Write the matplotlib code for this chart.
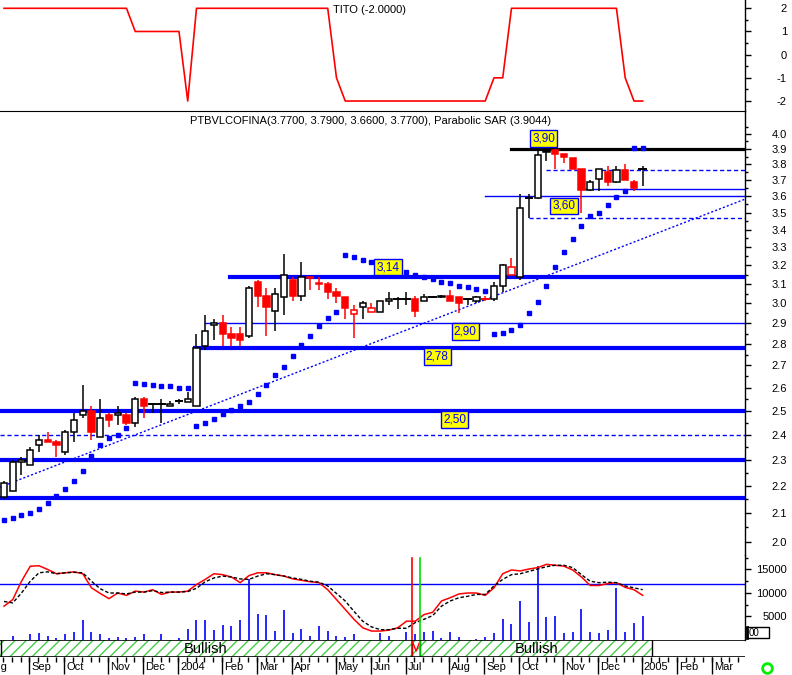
import numpy as np
import matplotlib
matplotlib.use("Agg")
import matplotlib.pyplot as plt
from matplotlib.patches import Rectangle
from matplotlib.lines import Line2D
from matplotlib.ticker import FixedLocator, FixedFormatter, NullFormatter

plt.rcParams['font.family'] = ['Liberation Sans', 'DejaVu Sans']

# ---------------- data (weekly bars) ----------------
opens = [2.16, 2.18, 2.29, 2.28, 2.36, 2.38, 2.37, 2.33, 2.41, 2.48,
         2.50, 2.39, 2.48, 2.48, 2.48, 2.45, 2.55, 2.53, 2.53, 2.52,
         2.54, 2.535, 2.52, 2.79, 2.89, 2.90, 2.85, 2.85, 2.84, 3.11,
         3.04, 2.96, 3.03, 3.12, 3.04, 3.14, 3.105, 3.10, 3.06, 3.03,
         2.945, 2.98, 2.955, 2.955, 3.01, 3.02, 3.02, 3.02, 3.01, 3.03,
         3.03, 3.04, 3.03, 3.02, 3.01, 3.02, 3.02, 3.09, 3.15, 3.14,
         3.59, 3.59, 3.89, 3.89, 3.87, 3.84, 3.77, 3.64, 3.705, 3.75,
         3.69, 3.765, 3.69, 3.77]
highs = [2.22, 2.30, 2.31, 2.35, 2.40, 2.41, 2.38, 2.42, 2.49, 2.61,
         2.52, 2.55, 2.49, 2.52, 2.49, 2.56, 2.56, 2.53, 2.55, 2.54,
         2.55, 2.58, 2.85, 2.94, 2.92, 2.94, 2.88, 2.88, 3.09, 3.12,
         3.08, 3.08, 3.26, 3.14, 3.22, 3.14, 3.14, 3.11, 3.08, 3.03,
         2.99, 3.01, 3.00, 3.01, 3.06, 3.03, 3.06, 3.04, 3.05, 3.04,
         3.045, 3.07, 3.03, 3.02, 3.04, 3.04, 3.11, 3.21, 3.24, 3.61,
         3.61, 3.89, 3.90, 3.90, 3.87, 3.84, 3.77, 3.70, 3.77, 3.79,
         3.79, 3.80, 3.70, 3.79]
lows = [2.15, 2.18, 2.24, 2.28, 2.33, 2.37, 2.31, 2.32, 2.37, 2.47,
        2.38, 2.39, 2.43, 2.44, 2.44, 2.43, 2.47, 2.49, 2.45, 2.52,
        2.53, 2.535, 2.52, 2.77, 2.82, 2.79, 2.79, 2.79, 2.83, 2.98,
        2.84, 2.86, 2.94, 3.01, 3.01, 3.07, 3.07, 3.02, 3.00, 2.92,
        2.83, 2.92, 2.955, 2.955, 2.99, 2.97, 2.99, 2.93, 3.01, 3.03,
        3.025, 3.01, 2.95, 2.99, 3.00, 3.01, 3.01, 3.06, 3.15, 3.12,
        3.47, 3.58, 3.82, 3.77, 3.81, 3.77, 3.50, 3.63, 3.63, 3.66,
        3.68, 3.70, 3.63, 3.66]
closes = [2.21, 2.29, 2.30, 2.34, 2.38, 2.37, 2.36, 2.41, 2.46, 2.50,
          2.41, 2.47, 2.46, 2.49, 2.45, 2.55, 2.52, 2.53, 2.53, 2.53,
          2.54, 2.55, 2.78, 2.86, 2.90, 2.85, 2.83, 2.82, 3.08, 3.04,
          2.98, 3.05, 3.15, 3.04, 3.14, 3.13, 3.10, 3.06, 3.04, 2.975,
          2.965, 3.00, 2.975, 3.01, 3.02, 3.02, 3.02, 2.96, 3.03, 3.03,
          3.04, 3.01, 3.00, 3.02, 3.03, 3.02, 3.09, 3.20, 3.19, 3.53,
          3.59, 3.86, 3.88, 3.87, 3.85, 3.77, 3.64, 3.69, 3.77, 3.69,
          3.765, 3.70, 3.65, 3.77]
sar = [2.076, 2.083, 2.094, 2.100, 2.115, 2.137, 2.162, 2.188, 2.218, 2.256,
       2.314, 2.358, 2.386, 2.398, 2.427, 2.619, 2.615, 2.611, 2.606, 2.606,
       2.598, 2.598, 2.435, 2.447, 2.463, 2.485, 2.502, 2.519, 2.536, 2.570,
       2.611, 2.655, 2.691, 2.742, 2.793, 2.836, 2.885, 2.924, 2.958, 3.259,
       3.248, 3.227, 3.216, 3.200, 3.190, 3.179, 3.163, 3.150, 3.137, 3.125,
       3.110, 3.104, 3.088, 3.083, 3.072, 3.062, 2.846, 2.851, 2.866, 2.890,
       2.953, 3.006, 3.088, 3.190, 3.271, 3.349, 3.421, 3.482, 3.499, 3.547,
       3.596, 3.633, 3.908, 3.908]
volume = [0, 800, 0, 1200, 1400, 900, 500, 1200, 1800, 4300,
          1600, 1200, 500, 700, 500, 700, 1200, 0, 1200, 0,
          400, 2400, 4200, 4300, 2200, 3200, 3000, 4200, 13000, 5600,
          5400, 2000, 6300, 1400, 2400, 900, 3000, 2000, 900, 600,
          1200, 0, 0, 1400, 900, 0, 1600, 1200, 1600, 2000,
          400, 1800, 600, 0, 300, 600, 1400, 4500, 3500, 8400,
          3900, 15800, 4900, 5100, 1400, 1600, 6600, 1600, 1400, 2200,
          11100, 1600, 3600, 5100]
vol_ma_fast = [7.2, 8.6, 12.5, 15.7, 15.8, 15.0, 14.1, 14.3, 14.5, 14.1,
               11.1, 9.9, 8.8, 10.0, 9.5, 10.4, 10.2, 10.7, 9.7, 10.2,
               10.2, 10.4, 11.8, 12.9, 14.1, 13.9, 13.4, 12.2, 13.7, 14.3,
               14.3, 13.9, 13.6, 13.0, 12.7, 12.4, 12.2, 10.7, 8.6, 6.5,
               4.4, 2.6, 1.9, 1.9, 2.1, 2.6, 4.0, 4.0, 5.4, 5.9,
               8.3, 9.0, 9.8, 10.0, 10.0, 9.5, 11.1, 14.1, 14.9, 14.7,
               15.1, 15.4, 16.1, 15.9, 15.7, 14.9, 13.4, 11.6, 11.6, 12.0,
               12.2, 11.2, 10.7, 9.5]
vol_ma_slow = [8.2, 7.9, 10.0, 12.5, 14.3, 14.5, 14.1, 14.3, 14.4, 14.3,
               12.5, 10.9, 10.0, 10.0, 9.8, 10.2, 10.2, 10.5, 10.1, 10.2,
               10.2, 10.3, 11.0, 12.4, 13.2, 13.6, 13.4, 13.0, 12.9, 13.6,
               14.1, 13.9, 13.6, 13.2, 12.9, 12.5, 12.3, 11.5, 9.9, 8.3,
               6.1, 4.0, 2.8, 2.2, 2.2, 2.5, 2.5, 3.7, 4.4, 5.2,
               7.2, 8.3, 9.0, 9.3, 9.7, 9.7, 11.5, 12.9, 13.9, 14.1,
               14.6, 15.1, 15.6, 15.9, 15.9, 15.4, 13.9, 12.5, 12.2, 12.3,
               12.2, 11.5, 11.1, 10.7]
tito = [2] * 15 + [1] * 6 + [-2] + [2] * 16 + [-1] + [-2] * 17 + [-1] * 2 + [2] * 13 + [-1] + [-2] * 2

labeled_levels = [3.90, 3.60, 3.14, 2.90, 2.78, 2.50]
other_levels = [3.765, 3.643, 3.47, 2.40, 2.30, 2.155]
trend_points = [(0, 2.201), (84, 3.567)]
vol_ref_level = 12000
signal_weeks = [46.6, 47.6]
month_labels = ["Aug", "Sep", "Oct", "Nov", "Dec", "2004", "Feb", "Mar", "Apr", "May",
                "Jun", "Jul", "Aug", "Sep", "Oct", "Nov", "Dec", "2005", "Feb", "Mar"]
month_weeks = [-2, 3, 7, 12, 16, 20, 25, 29, 33, 38, 42, 46, 51, 55, 59, 64, 68, 73, 77, 81]
price_ticks = [round(2.0 + 0.1 * k, 1) for k in range(21)]
tito_ticks = [2, 1, 0, -1, -2]
vol_ticks = [5000, 10000, 15000]
band_segments = [("Bullish", -0.457, 46.6), ("", 46.6, 47.6), ("Bullish", 47.6, 74.06)]

n = len(closes)
idx = np.arange(n)
BLUE = '#0000ff'
RED = '#ff0000'

# ---------------- layout ----------------
W, H = 792, 675
fig = plt.figure(figsize=(7.92, 6.75), dpi=100)


def rect(x0, y0, x1, y1):
    return [x0 / W, 1 - y1 / H, (x1 - x0) / W, (y1 - y0) / H]


XMIN, XMAX = -0.457, 84.69
ax_top = fig.add_axes(rect(0, 0, 745, 111))
ax_main = fig.add_axes(rect(0, 111, 745, 555))
ax_vol = fig.add_axes(rect(0, 555, 745, 640))
ax_band = fig.add_axes(rect(0, 640, 745, 657))
ax_date = fig.add_axes(rect(0, 657, 745, 675))

for ax in (ax_top, ax_main, ax_vol, ax_band, ax_date):
    ax.set_xlim(XMIN, XMAX)
    ax.set_xticks([])
    ax.patch.set_alpha(0)
    for s in ax.spines.values():
        s.set_visible(False)

PAD = 25.7
TL = 4.5


def right_axis(ax):
    ax.spines['right'].set_visible(True)
    ax.spines['right'].set_linewidth(1)
    ax.yaxis.tick_right()
    ax.tick_params(axis='y', which='major', direction='out', length=TL, width=1,
                   pad=PAD, labelsize=8)
    ax.tick_params(axis='y', which='minor', direction='out', length=2.5, width=1)


# ---------------- TITO panel ----------------
ax_top.plot(idx, tito, color=RED, lw=1.2)
ax_top.set_ylim(-2.431, 2.358)
right_axis(ax_top)
ax_top.spines['bottom'].set_visible(True)
ax_top.yaxis.set_major_locator(FixedLocator(tito_ticks))
ax_top.yaxis.set_major_formatter(FixedFormatter([str(t) for t in tito_ticks]))
ax_top.yaxis.set_minor_locator(FixedLocator([-1.5, -0.5, 0.5, 1.5, 2.5]))
plt.setp(ax_top.get_yticklabels(), ha='right')
fig.text(333 / W, 1 - 10 / H, "TITO (-2.0000)", fontsize=8, ha='left', va='center')

# ---------------- price panel ----------------
ax_main.set_yscale('log')
ax_main.set_ylim(1.956, 4.16)
right_axis(ax_main)
ax_main.yaxis.set_major_locator(FixedLocator(price_ticks))
ax_main.yaxis.set_major_formatter(FixedFormatter([f"{t:.1f}" for t in price_ticks]))
ax_main.yaxis.set_minor_locator(FixedLocator([t + 0.05 for t in price_ticks]))
ax_main.yaxis.set_minor_formatter(NullFormatter())
plt.setp(ax_main.get_yticklabels(), ha='right')

# support / resistance lines: (level, start week, color, width, style)
line_specs = [
    (labeled_levels[0], 58.0, 'black', 2.3, '-'),
    (labeled_levels[1], 55.0, BLUE, 1.0, '-'),
    (labeled_levels[2], 25.8, BLUE, 3.0, '-'),
    (labeled_levels[3], 23.0, BLUE, 1.0, '-'),
    (labeled_levels[4], 21.8, BLUE, 3.0, '-'),
    (labeled_levels[5], XMIN, BLUE, 3.0, '-'),
    (other_levels[0], 62.0, BLUE, 1.0, '--'),
    (other_levels[1], 66.0, BLUE, 1.0, '-'),
    (other_levels[2], 60.0, BLUE, 1.0, '--'),
    (other_levels[3], XMIN, BLUE, 1.0, '--'),
    (other_levels[4], XMIN, BLUE, 3.0, '-'),
    (other_levels[5], XMIN, BLUE, 3.0, '-'),
]
for lev, x0, col, lw, ls in line_specs:
    ln = ax_main.plot([x0, XMAX], [lev, lev], color=col, lw=lw, zorder=2)[0]
    if ls == '--':
        ln.set_dashes([3, 2])

# trend line
tl = ax_main.axline(trend_points[0], trend_points[1], color=BLUE, lw=1, zorder=2)
tl.set_dashes([1.5, 1.5])

# candles
for i in range(n):
    o, h, l, c = opens[i], highs[i], lows[i], closes[i]
    prev = closes[i - 1] if i > 0 else c
    col = RED if c < prev else 'black'
    ax_main.plot([i, i], [l, h], color=col, lw=1.1, zorder=3, solid_capstyle='butt')
    if abs(c - o) < 0.004:
        ax_main.plot([i - 0.38, i + 0.38], [c, c], color=col, lw=1.4, zorder=4)
    else:
        fc = col if c < o else 'white'
        ax_main.add_patch(Rectangle((i - 0.36, min(o, c)), 0.72, abs(c - o),
                                    facecolor=fc, edgecolor=col, lw=1.1, zorder=4))

# parabolic SAR
ax_main.plot(idx, sar, linestyle='none', marker='s', ms=2.6, color=BLUE, zorder=5)

# level labels: (week, price position)
label_pos = [(61.7, 3.97), (64.0, 3.54), (43.9, 3.19), (52.7, 2.86), (49.5, 2.741), (51.5, 2.463)]
for lev, (xw, yp) in zip(labeled_levels, label_pos):
    ax_main.text(xw, yp, f"{lev:.2f}".replace('.', ','), fontsize=8.5, color=BLUE,
                 ha='center', va='center', zorder=6,
                 bbox=dict(boxstyle='square,pad=0.18', fc='yellow', ec=BLUE, lw=1))

fig.text(190 / W, 1 - 121 / H,
         "PTBVLCOFINA(3.7700, 3.7900, 3.6600, 3.7700), Parabolic SAR (3.9044)",
         fontsize=8, ha='left', va='center')

# ---------------- volume panel ----------------
ax_vol.set_ylim(0, 18085)
right_axis(ax_vol)
ax_vol.yaxis.set_major_locator(FixedLocator(vol_ticks))
ax_vol.yaxis.set_major_formatter(FixedFormatter([str(v) for v in vol_ticks]))
ax_vol.yaxis.set_minor_locator(FixedLocator([2500, 7500, 12500, 17500]))
plt.setp(ax_vol.get_yticklabels(), ha='right')
ax_vol.vlines(idx, 0, volume, color=BLUE, lw=1.2, zorder=3)
ax_vol.axhline(vol_ref_level, color=BLUE, lw=1, zorder=2)
ax_vol.plot(idx, np.array(vol_ma_fast) * 1000, color=RED, lw=1.1, zorder=4)
sl = ax_vol.plot(idx, np.array(vol_ma_slow) * 1000, color='black', lw=1, zorder=4)[0]
sl.set_dashes([2.5, 1.5])
top_frac = (640 - 558) / 85
ax_vol.axvline(signal_weeks[0], ymin=0, ymax=top_frac, color=RED, lw=1.2, zorder=5)
ax_vol.axvline(signal_weeks[1], ymin=0, ymax=top_frac, color='#00dd00', lw=1.2, zorder=5)

# ---------------- signal band ----------------
ax_band.set_ylim(0, 1)
ax_band.set_yticks([])
for txt, x0, x1 in band_segments:
    ax_band.add_patch(Rectangle((x0, 0), x1 - x0, 1, facecolor='white',
                                edgecolor='#44cc44', hatch='///', lw=0, zorder=1))
    if txt:
        ax_band.text((x0 + x1) / 2, 0.45, txt, fontsize=10.5, ha='center', va='center', zorder=3)
ax_band.plot([signal_weeks[0], signal_weeks[0] + 0.5, signal_weeks[1]], [1, 0.35, 1],
             color=RED, lw=1, zorder=3)
for xv in [XMIN + 0.08, signal_weeks[0], signal_weeks[1], 74.06]:
    ax_band.axvline(xv, color='black', lw=1, zorder=2)
ax_band.axvline(signal_weeks[0], color=RED, lw=1.2, zorder=4)
ax_band.axvline(signal_weeks[1], color='#00dd00', lw=1.2, zorder=4)
ax_band.axhline(1, color='black', lw=1.2, zorder=4)
ax_band.axhline(0, color='black', lw=1.2, zorder=4)

# ---------------- date axis ----------------
ax_date.set_ylim(0, 1)
ax_date.set_yticks([])
weeks = np.arange(-3, 86)
ax_date.vlines(weeks - 0.1, 0.7, 1, color='black', lw=1)
ax_date.vlines(np.array(month_weeks) - 0.1, 0.08, 1, color='black', lw=1)
for lab, m in zip(month_labels, month_weeks):
    ax_date.text(m + 0.12, 0.42, lab, fontsize=8, ha='left', va='center', clip_on=True)

# small clipped label box and status marker
fig.add_artist(Rectangle((747 / W, 1 - 638 / H), 22 / W, 11 / H, transform=fig.transFigure,
                         facecolor='white', edgecolor='black', lw=1))
fig.add_artist(Line2D([747 / W, 747 / W], [1 - 638 / H, 1 - 627 / H], transform=fig.transFigure,
                      color='black', lw=2))
fig.text(749 / W, 1 - 633 / H, "00", fontsize=7, ha='left', va='center')
fig.add_artist(Line2D([767 / W], [1 - 668 / H], transform=fig.transFigure, marker='o',
                      ms=7, mfc='none', mec='#00ee00', mew=2, linestyle='none'))

fig.savefig("out.png", dpi=100)
